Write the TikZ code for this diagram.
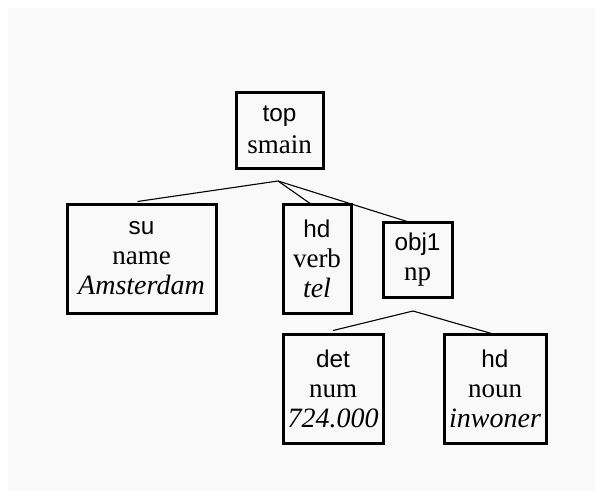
\documentclass[tikz,border=0pt]{standalone}
\usepackage{fontspec}
\setmainfont{Liberation Serif}
\newfontfamily\labelfont[Scale=0.9]{Liberation Sans}
\definecolor{paper}{HTML}{F9F9F9}
\tikzset{
  cat/.style={draw=black, line width=3pt, inner sep=0pt, align=center,
    font=\fontsize{27}{30}\selectfont},
  tall/.style={cat, minimum height=109},
  branch/.style={line width=1.1pt}
}
\newcommand{\fn}[1]{{\labelfont #1}}
\newcommand{\lx}[1]{{\fontsize{28}{30}\selectfont\itshape #1}}
\begin{document}
\begin{tikzpicture}[x=1pt, y=-1pt]
  \useasboundingbox (0,0) rectangle (603,499);
  \fill[white] (0,0) rectangle (603,499);
  \fill[paper] (8,8) rectangle (595,491);

  % boxes (centre, size)
  \node[cat, minimum width=87, minimum height=76] (top) at (279.5,130)
    {\fn{top}\\[2pt]smain};
  \node[tall, minimum width=149] (su) at (141.5,258.5)
    {\fn{su}\\name\\\lx{Amsterdam}};
  \node[tall, minimum width=68] (hdv) at (317,258.5)
    {\fn{hd}\\verb\\\lx{tel}};
  \node[cat, minimum width=69, minimum height=75] (obj) at (417.5,259.5)
    {\fn{obj1}\\np};
  \node[tall, minimum width=100] (det) at (333,388.5)
    {\fn{det}\\num\\\lx{724.000}};
  \node[tall, minimum width=102] (hdn) at (495,388.5)
    {\fn{hd}\\noun\\\lx{inwoner}};

  % branching points
  \coordinate (j1) at (278,181);
  \coordinate (j2) at (413,311);

  \draw[branch] (su.north) ++(-4,-1) coordinate (su1) -- (j1);
  \draw[branch] (j1) -- ([xshift=-4,yshift=-3]hdv.north);
  \draw[branch] (j1) -- ([xshift=-4,yshift=-3]obj.north);
  \draw[branch] (det.north) ++(0,-2) coordinate (d1) -- (j2);
  \draw[branch] (j2) -- ([yshift=-2]hdn.north);
\end{tikzpicture}
\end{document}
